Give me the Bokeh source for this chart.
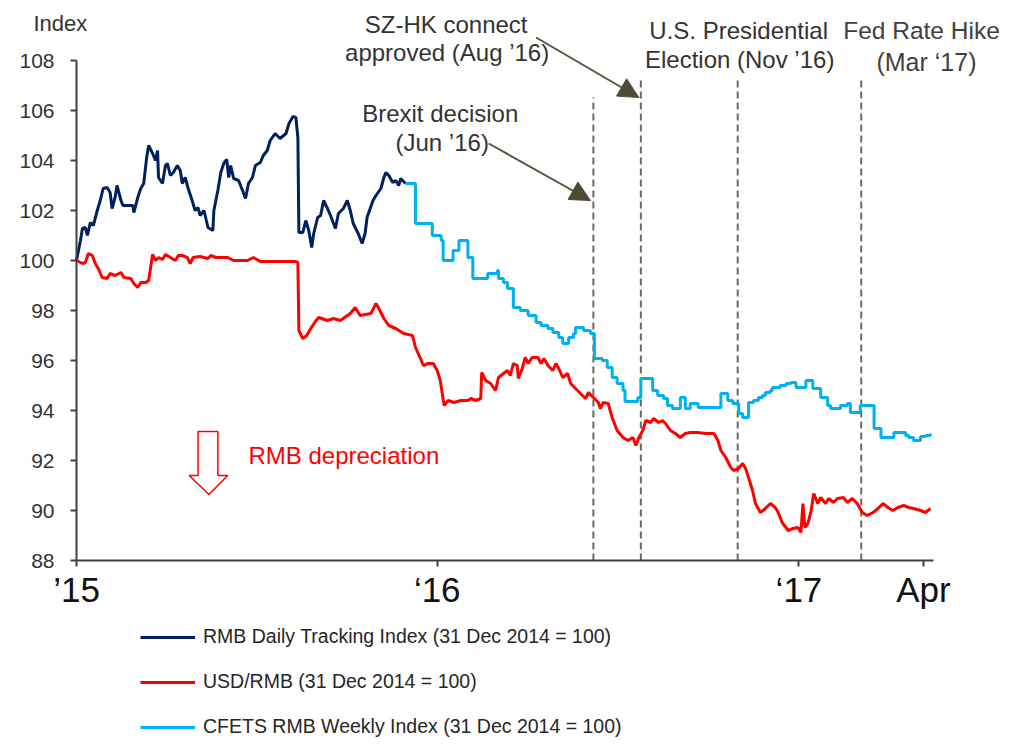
import pandas as pd
from bokeh.plotting import figure
from bokeh.models import (Range1d, FixedTicker, Legend, LegendItem, Label,
                          Arrow, NormalHead)
from bokeh.embed import file_html
from bokeh.resources import INLINE

# ---------------- data (days after 1 Jan 2015, index 31 Dec 2014 = 100) -------------
BASE_DATE = "2015-01-01"

daily_days = [0, 4, 6, 9, 11, 14, 17, 21, 24, 27,
              31, 34, 36, 39, 41, 45, 47, 52, 57, 58,
              62, 65, 68, 71, 73, 77, 80, 82, 83, 87,
              90, 92, 95, 98, 102, 105, 107, 110, 113, 117,
              120, 123, 125, 129, 133, 138, 139, 143, 146, 149,
              152, 154, 156, 159, 164, 168, 171, 174, 178, 181,
              186, 189, 193, 196, 201, 206, 212, 215, 219, 222,
              224, 225, 229, 232, 235, 238, 240, 244, 247, 250,
              254, 257, 262, 265, 270, 274, 277, 280, 285, 289,
              292, 294, 300, 303, 308, 311, 313, 316, 320, 323,
              326, 328, 333]
daily_index = [100.0, 100.8, 101.28, 101.32, 101.0, 101.52, 101.4, 102.0, 102.4, 102.88,
               102.92, 102.72, 102.08, 102.52, 103.0, 102.4, 102.2, 102.2, 102.2, 101.92,
               102.52, 102.88, 103.08, 104.12, 104.6, 104.28, 104.0, 104.4, 103.32, 103.08,
               103.8, 103.88, 103.4, 103.52, 103.8, 103.6, 103.08, 103.32, 102.88, 102.4,
               102.0, 102.12, 101.8, 102.0, 101.32, 101.2, 102.0, 102.8, 103.52, 103.88,
               104.04, 103.32, 103.8, 103.28, 103.2, 102.8, 102.48, 103.08, 103.32, 103.8,
               103.92, 104.2, 104.4, 104.8, 105.08, 104.88, 105.08, 105.48, 105.76, 105.72,
               104.92, 101.12, 101.12, 101.6, 101.2, 100.52, 101.08, 101.72, 101.8, 102.4,
               102.08, 101.8, 101.28, 101.88, 102.08, 102.4, 102.0, 101.48, 101.08, 100.68,
               101.08, 101.72, 102.4, 102.6, 102.88, 103.32, 103.52, 103.4, 103.12, 103.2,
               103.0, 103.28, 103.08]

usd_days = [0, 6, 9, 12, 16, 19, 22, 26, 31, 34,
            39, 45, 48, 55, 58, 62, 65, 70, 73, 77,
            80, 83, 87, 90, 95, 100, 103, 107, 112, 115,
            118, 125, 133, 136, 141, 146, 153, 159, 173, 179,
            186, 222, 224, 225, 229, 233, 237, 241, 245, 254,
            260, 267, 277, 282, 287, 298, 303, 306, 311, 316,
            323, 331, 340, 343, 348, 351, 356, 361, 365, 368,
            372, 376, 382, 389, 396, 399, 404, 409, 410, 414,
            419, 424, 427, 432, 436, 439, 442, 446, 447, 451,
            454, 457, 461, 467, 470, 473, 477, 482, 485, 488,
            492, 497, 500, 505, 510, 515, 518, 523, 528, 530,
            533, 538, 542, 547, 553, 558, 563, 566, 569, 573,
            576, 581, 584, 589, 593, 596, 601, 606, 611, 616,
            621, 628, 637, 645, 649, 652, 657, 662, 665, 670,
            674, 677, 680, 684, 687, 692, 697, 702, 707, 710,
            714, 720, 725, 730, 733, 735, 737, 740, 743, 746,
            750, 753, 758, 761, 766, 770, 776, 780, 785, 790,
            795, 800, 806, 811, 816, 821, 826, 831, 837, 842,
            847, 854, 859, 864]
usd_index = [100.0, 99.88, 99.92, 100.28, 100.2, 99.88, 99.68, 99.32, 99.28, 99.48,
             99.4, 99.52, 99.32, 99.28, 99.08, 98.92, 99.12, 99.12, 99.2, 100.24,
             100.0, 100.12, 100.04, 100.24, 100.12, 100.0, 100.2, 100.2, 100.12, 99.88,
             100.12, 100.16, 100.08, 100.2, 100.12, 100.12, 100.12, 100.0, 100.0, 100.12,
             99.96, 99.96, 99.92, 97.2, 96.88, 97.0, 97.28, 97.52, 97.72, 97.6,
             97.68, 97.6, 97.88, 98.12, 97.8, 97.88, 98.28, 98.08, 97.68, 97.4,
             97.28, 97.08, 97.0, 96.52, 96.08, 95.8, 95.88, 95.88, 95.6, 95.2,
             94.2, 94.4, 94.32, 94.4, 94.4, 94.48, 94.4, 94.48, 95.52, 95.2,
             95.08, 94.8, 95.32, 95.48, 95.6, 95.4, 95.88, 95.8, 95.28, 95.68,
             96.12, 95.88, 96.12, 96.12, 95.88, 96.08, 95.8, 95.6, 95.88, 95.68,
             95.32, 95.48, 95.08, 94.88, 94.68, 94.48, 94.72, 94.52, 94.32, 94.08,
             94.32, 94.28, 93.72, 93.2, 92.92, 92.8, 92.92, 92.6, 92.92, 93.2,
             93.6, 93.52, 93.68, 93.52, 93.6, 93.48, 93.2, 93.08, 92.92, 93.08,
             93.12, 93.12, 93.08, 93.08, 92.8, 92.4, 92.12, 91.72, 91.6, 91.68,
             91.88, 91.68, 91.32, 90.8, 90.28, 89.92, 90.08, 90.28, 90.12, 89.92,
             89.52, 89.2, 89.28, 89.32, 89.12, 90.28, 89.32, 89.48, 89.92, 90.68,
             90.28, 90.52, 90.28, 90.48, 90.32, 90.48, 90.52, 90.32, 90.48, 90.28,
             89.92, 89.8, 89.92, 90.08, 90.28, 90.12, 90.0, 90.12, 90.2, 90.12,
             90.08, 90.0, 89.92, 90.08]

cfets_days = [333, 343, 360, 369, 371, 381, 387, 396, 401, 416,
              426, 427, 432, 436, 442, 449, 457, 465, 470, 477,
              482, 488, 492, 498, 503, 505, 513, 520, 524, 532,
              537, 542, 547, 553, 555, 568, 571, 583, 588, 594,
              598, 603, 611, 616, 621, 629, 652, 659, 664, 670,
              674, 680, 685, 690, 694, 697, 702, 704, 712, 718,
              723, 728, 738, 745, 753, 760, 763, 773, 780, 783,
              793, 807, 814, 827, 839, 842, 847, 854, 859, 864]
cfets_index = [103.08, 101.48, 101.0, 100.8, 100.0, 100.4, 100.8, 100.12, 99.28, 99.48,
               99.6, 99.28, 99.12, 98.88, 98.12, 98.0, 97.8, 97.52, 97.4, 97.28,
               97.12, 96.92, 96.68, 96.92, 97.08, 97.32, 97.2, 97.08, 96.08, 96.0,
               95.72, 95.32, 95.08, 94.8, 94.36, 94.52, 95.28, 94.8, 94.6, 94.48,
               94.2, 94.08, 94.52, 94.08, 94.28, 94.12, 94.68, 94.4, 94.28, 93.88,
               93.72, 94.32, 94.4, 94.52, 94.6, 94.72, 94.8, 94.92, 95.0, 95.08,
               95.12, 94.92, 95.2, 94.88, 94.52, 94.2, 94.08, 94.2, 94.28, 93.92,
               94.2, 93.28, 92.92, 93.12, 93.0, 92.92, 92.8, 92.96, 93.0, 93.08]

series_labels = ["RMB Daily Tracking Index (31 Dec 2014 = 100)",
                 "USD/RMB (31 Dec 2014 = 100)",
                 "CFETS RMB Weekly Index (31 Dec 2014 = 100)"]

event_days = [523, 571, 669, 794]
event_tops = [106.52, 107.28, 107.28, 107.2]

x_tick_days = [0, 365, 731, 857]
x_tick_labels = ["\u201915", "\u201816", "\u201817", "Apr"]
y_ticks = [88, 90, 92, 94, 96, 98, 100, 102, 104, 106, 108]

# ---------------- helpers ----------------
base = pd.Timestamp(BASE_DATE)


def ms(days):
    return [(base + pd.Timedelta(days=float(d))).value / 1e6 for d in days]


def ms1(d):
    return ms([d])[0]


FONT = "Liberation Sans"
NAVY = "#002060"
RED = "#ff0000"
CYAN = "#00b0f0"
OLIVE = "#4d4b35"
GRAYTXT = "#333333"

p = figure(width=1015, height=745, x_axis_type="datetime", output_backend="svg",
           toolbar_location=None, title=None,
           x_axis_location="above", y_axis_location="right",
           x_range=Range1d(ms1(-76.9), ms1(933.9)), y_range=Range1d(80.6, 110.4),
           min_border_left=0, min_border_right=16, min_border_top=0,
           min_border_bottom=0)
p.outline_line_color = None
p.xgrid.visible = False
p.ygrid.visible = False
p.background_fill_color = "white"
p.border_fill_color = "white"

# y axis: drawn at 1 Jan 2015, labels to its left (figure-space padded so they right-align)
p.yaxis.fixed_location = ms1(0)
p.yaxis.ticker = FixedTicker(ticks=y_ticks)
p.yaxis.major_label_overrides = {t: str(t).rjust(3, "\u2007") for t in y_ticks}
p.yaxis.bounds = (88, 108)
p.yaxis.axis_line_color = "#404040"
p.yaxis.axis_line_width = 2
p.yaxis.major_tick_line_color = "#404040"
p.yaxis.major_tick_line_width = 2
p.yaxis.major_tick_out = 0
p.yaxis.major_tick_in = 6
p.yaxis.minor_tick_out = 0
p.yaxis.minor_tick_in = 0
p.yaxis.major_label_standoff = -57
p.yaxis.major_label_text_font = FONT
p.yaxis.major_label_text_font_size = "21px"
p.yaxis.major_label_text_color = "#333333"

# x axis: drawn at 88, labels below it
tick_ms = ms(x_tick_days)
p.xaxis.fixed_location = 88
p.xaxis.ticker = FixedTicker(ticks=tick_ms)
p.xaxis.major_label_overrides = {t: lab for t, lab in zip(tick_ms, x_tick_labels)}
p.xaxis.bounds = (ms1(0), ms1(867))
p.xaxis.axis_line_color = "#404040"
p.xaxis.axis_line_width = 2
p.xaxis.major_tick_line_color = "#404040"
p.xaxis.major_tick_line_width = 2
p.xaxis.major_tick_out = 0
p.xaxis.major_tick_in = 6
p.xaxis.minor_tick_out = 0
p.xaxis.minor_tick_in = 0
p.xaxis.major_label_standoff = -48
p.xaxis.major_label_text_baseline = "alphabetic"
p.xaxis.major_label_text_font = FONT
p.xaxis.major_label_text_font_size = "35px"
p.xaxis.major_label_text_color = "#111111"

# event dashed lines
p.segment(x0=ms(event_days), y0=[88] * len(event_days), x1=ms(event_days), y1=event_tops,
          line_color="#6b6a5a", line_width=2, line_dash="7 4")

# series
r_daily = p.line(ms(daily_days), daily_index, line_color=NAVY, line_width=3)
r_usd = p.line(ms(usd_days), usd_index, line_color=RED, line_width=3)
r_cfets = p.step(ms(cfets_days), cfets_index, mode="after", line_color=CYAN, line_width=3)

# arrows
for (d0, v0, d1, v1) in [(417, 104.68, 520, 102.4), (465, 108.92, 569, 106.52)]:
    p.add_layout(Arrow(end=NormalHead(size=20, fill_color=OLIVE, line_color=OLIVE),
                       x_start=ms1(d0), y_start=v0, x_end=ms1(d1), y_end=v1,
                       line_color="#55543f", line_width=2))

# red hollow arrow (RMB depreciation)
p.patch(ms([123, 143, 143, 153, 134, 114, 123]),
        [93.16, 93.16, 91.4, 91.4, 90.64, 91.4, 91.4],
        fill_color="white", line_color=RED, line_width=1.5)

# annotation texts
notes = [("SZ-HK connect", 374, 109.44, "center", GRAYTXT, "24px"),
         ("approved (Aug \u201916)", 375, 108.32, "center", GRAYTXT, "24px"),
         ("Brexit decision", 368, 105.9, "center", GRAYTXT, "24px"),
         ("(Jun \u201916)", 370, 104.72, "center", GRAYTXT, "24px"),
         ("U.S. Presidential", 670, 109.2, "center", GRAYTXT, "24px"),
         ("Election (Nov \u201916)", 671, 108.04, "center", GRAYTXT, "24px"),
         ("Fed Rate Hike", 855, 109.2, "center", "#404040", "24.5px"),
         ("(Mar \u201817)", 860, 107.96, "center", "#404040", "25px"),
         ("RMB depreciation", 174, 92.2, "left", RED, "24px"),
         ("Index", -43.5, 109.48, "left", GRAYTXT, "22px")]
for txt, d, v, al, col, fs in notes:
    p.add_layout(Label(x=ms1(d), y=v, text=txt, text_align=al, text_baseline="middle",
                       text_font=FONT, text_font_size=fs, text_color=col))

legend = Legend(items=[LegendItem(label=series_labels[0], renderers=[r_daily]),
                       LegendItem(label=series_labels[1], renderers=[r_usd]),
                       LegendItem(label=series_labels[2], renderers=[r_cfets])],
                location=(140, 7), orientation="vertical",
                glyph_width=55, glyph_height=22, label_height=22, spacing=22,
                label_standoff=8, padding=0, margin=0,
                border_line_color=None, background_fill_alpha=0,
                label_text_font=FONT, label_text_font_size="19.5px",
                label_text_color="#262626")
p.add_layout(legend)

open("out.html", "w").write(file_html(p, INLINE))
